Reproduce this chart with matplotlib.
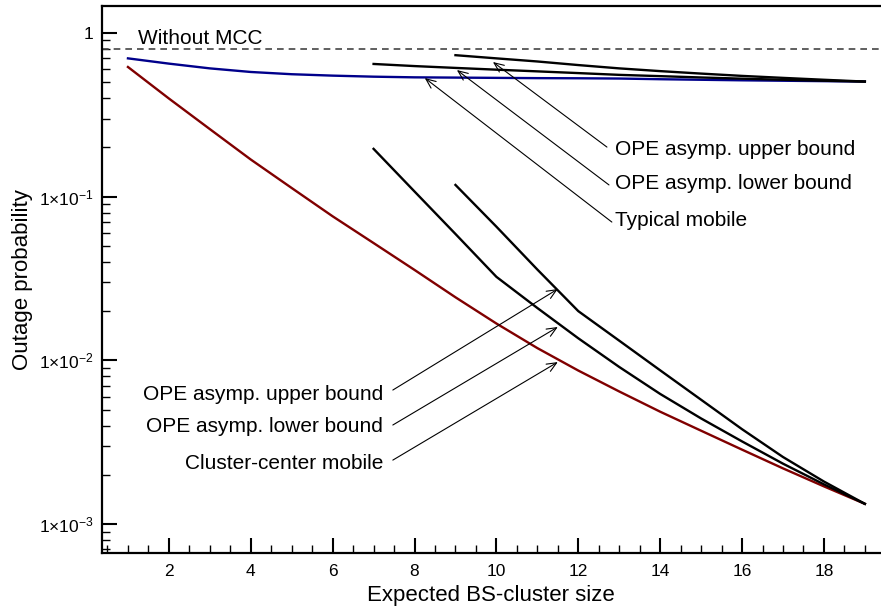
import numpy as np
import matplotlib
matplotlib.use("Agg")
import matplotlib.pyplot as plt
from matplotlib.ticker import FixedLocator, FixedFormatter, NullFormatter

plt.rcParams['font.family'] = ['Liberation Sans', 'DejaVu Sans']
plt.rcParams['mathtext.default'] = 'regular'

# ---- data ----
x_typ = [1, 2, 3, 4, 5, 6, 7, 8, 9, 10, 11, 12, 13, 14, 15, 16, 17, 18, 19]
y_typ = [0.700, 0.650, 0.608, 0.578, 0.560, 0.549, 0.541, 0.536, 0.534, 0.532,
         0.530, 0.529, 0.527, 0.522, 0.518, 0.514, 0.511, 0.508, 0.505]

x_typ_lb = [7, 8, 9, 10, 11, 12, 13, 14, 15, 16, 17, 18, 19]
y_typ_lb = [0.647, 0.628, 0.612, 0.597, 0.583, 0.569, 0.555, 0.545, 0.535,
            0.526, 0.518, 0.511, 0.505]

x_typ_ub = [9, 10, 11, 12, 13, 14, 15, 16, 17, 18, 19]
y_typ_ub = [0.732, 0.70, 0.67, 0.637, 0.608, 0.585, 0.565, 0.547, 0.532,
            0.518, 0.505]

x_cc = [1, 2, 3, 4, 5, 6, 7, 8, 9, 10, 11, 12, 13, 14, 15, 16, 17, 18, 19]
y_cc = [0.620, 0.398, 0.2588, 0.1687, 0.1130, 0.0759, 0.0521, 0.0357, 0.0243,
        0.0168, 0.01189, 0.00867, 0.00646, 0.00486, 0.00372, 0.00285, 0.00219,
        0.0017, 0.00133]

x_cc_lb = [7, 8, 9, 10, 11, 12, 13, 14, 15, 16, 17, 18, 19]
y_cc_lb = [0.196, 0.1076, 0.0592, 0.0324, 0.0209, 0.01365, 0.00912, 0.00624,
           0.00442, 0.0032, 0.00234, 0.00175, 0.00133]

x_cc_ub = [9, 10, 11, 12, 13, 14, 15, 16, 17, 18, 19]
y_cc_ub = [0.118, 0.0656, 0.0359, 0.020, 0.0132, 0.0087, 0.00575, 0.0038,
           0.00257, 0.00182, 0.00133]

without_mcc = 0.8

y_tick_vals = [1e-3, 1e-2, 1e-1, 1]
y_tick_labels = ['1×10$^{-3}$', '1×10$^{-2}$', '1×10$^{-1}$', '1']
x_tick_vals = [2, 4, 6, 8, 10, 12, 14, 16, 18]

# ---- figure ----
fig = plt.figure(figsize=(8.81, 6.16), dpi=100)
W, H = 881, 616
ax = fig.add_axes([102 / W, 1 - 553 / H, (880 - 102) / W, (553 - 6) / H])

ax.set_yscale('log')
ax.set_xlim(0.366, 19.37)
ax.set_ylim(6.66e-4, 1.462)

ax.axhline(without_mcc, color='#444444', lw=1.2, ls=(0, (4, 3)))
ax.text(1.25, 0.93, 'Without MCC', fontsize=15, ha='left', va='center')

lw = 1.7
ax.plot(x_typ, y_typ, color='#00008b', lw=lw)
ax.plot(x_typ_lb, y_typ_lb, color='black', lw=lw)
ax.plot(x_typ_ub, y_typ_ub, color='black', lw=lw)
ax.plot(x_cc, y_cc, color='#800000', lw=lw)
ax.plot(x_cc_lb, y_cc_lb, color='black', lw=lw)
ax.plot(x_cc_ub, y_cc_ub, color='black', lw=lw)

ap = dict(arrowstyle='->,head_length=0.7,head_width=0.3', lw=0.8,
          color='black', shrinkA=0, shrinkB=0)

# upper-right group
ur_texts = ['OPE asymp. upper bound', 'OPE asymp. lower bound', 'Typical mobile']
ur_text_y = [0.193, 0.121, 0.072]
ur_start = [(12.70, 0.201), (12.75, 0.118), (12.82, 0.070)]
ur_tip = [(9.915, 0.665), (9.035, 0.594), (8.25, 0.531)]
for t, ty, s, p in zip(ur_texts, ur_text_y, ur_start, ur_tip):
    ax.annotate('', xy=p, xytext=s, arrowprops=ap)
    ax.text(12.89, ty, t, fontsize=15, ha='left', va='center')

# lower-left group
ll_texts = ['OPE asymp. upper bound', 'OPE asymp. lower bound', 'Cluster-center mobile']
ll_text_y = [0.00615, 0.00392, 0.00236]
ll_start = [(7.47, 0.00659), (7.47, 0.00403), (7.47, 0.00246)]
ll_tip = [(11.50, 0.0273), (11.50, 0.0160), (11.50, 0.00977)]
for t, ty, s, p in zip(ll_texts, ll_text_y, ll_start, ll_tip):
    ax.annotate('', xy=p, xytext=s, arrowprops=ap)
    ax.text(7.23, ty, t, fontsize=15, ha='right', va='center')

# ticks
ax.yaxis.set_major_locator(FixedLocator(y_tick_vals))
ax.yaxis.set_major_formatter(FixedFormatter(y_tick_labels))
minor_y = [m * 10.0 ** e for e in range(-4, 1) for m in range(2, 10)]
ax.yaxis.set_minor_locator(FixedLocator(minor_y))
ax.yaxis.set_minor_formatter(NullFormatter())

ax.xaxis.set_major_locator(FixedLocator(x_tick_vals))
ax.xaxis.set_minor_locator(FixedLocator(np.arange(0.5, 19.5, 0.5)))

ax.tick_params(which='major', direction='in', length=11, width=1.5,
               labelsize=12.5, pad=6)
ax.tick_params(which='minor', direction='in', length=5.5, width=1.0)
ax.tick_params(axis='x', which='major', pad=8)

for s in ['left', 'bottom', 'top']:
    ax.spines[s].set_linewidth(1.6)
ax.spines['right'].set_visible(False)

ax.set_xlabel('Expected BS-cluster size', fontsize=16, labelpad=4)
ax.set_ylabel('Outage probability', fontsize=16, labelpad=4)

fig.savefig('out.png', dpi=100)
